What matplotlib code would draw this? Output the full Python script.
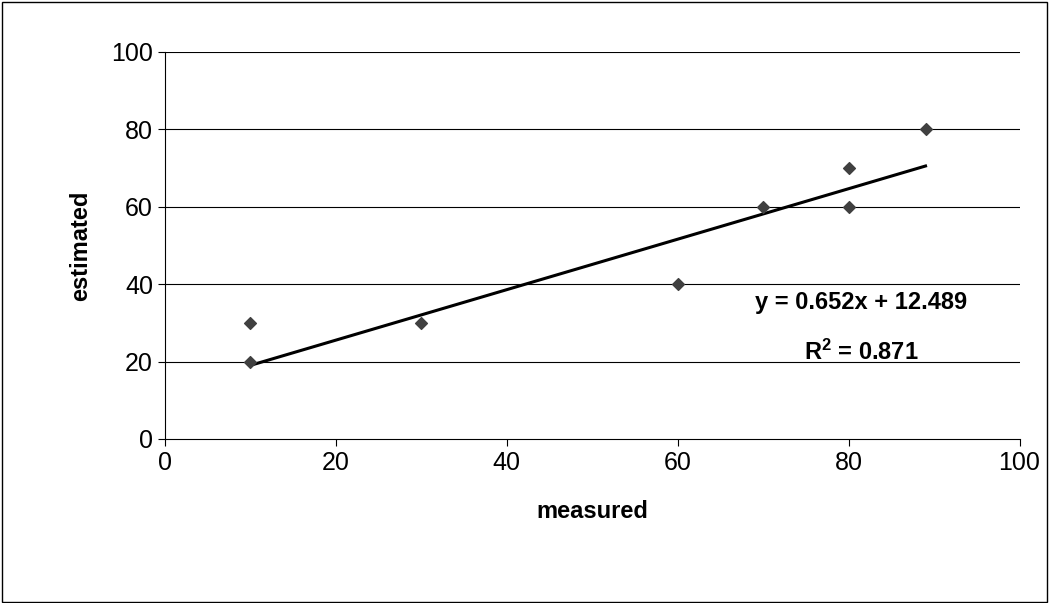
import numpy as np
from matplotlib import pyplot as plt

plt.rcParams['font.family'] = ['Liberation Sans', 'DejaVu Sans']
plt.rcParams['mathtext.fontset'] = 'custom'
plt.rcParams['mathtext.bf'] = 'Liberation Sans:bold'

measured = [10, 10, 30, 60, 70, 80, 80, 89]
estimated = [30, 20, 30, 40, 60, 70, 60, 80]
slope, intercept = 0.652, 12.489
ticks = [0, 20, 40, 60, 80, 100]

fig = plt.figure(figsize=(10.5, 6.03), dpi=100)
fig.patches.append(plt.Rectangle((0.002, 0.002), 0.995, 0.995, transform=fig.transFigure,
                                 fill=False, edgecolor='black', linewidth=1))
ax = fig.add_axes([0.157, 0.272, 0.814, 0.642])

for t in ticks[1:]:
    ax.axhline(t, color='black', linewidth=0.8, zorder=0)

ax.scatter(measured, estimated, marker='D', s=36, color='#404040', zorder=3)
xl = np.array([min(measured), max(measured)])
ax.plot(xl, slope * xl + intercept, color='black', linewidth=2.2, zorder=2)

ax.set_xlim(0, 100)
ax.set_ylim(0, 100)
ax.set_xticks(ticks)
ax.set_yticks(ticks)
ax.tick_params(labelsize=18, direction='out', length=5)
for s in ['top', 'right']:
    ax.spines[s].set_visible(False)
ax.set_xlabel('measured', fontsize=17, fontweight='bold', labelpad=18)
ax.set_ylabel('estimated', fontsize=17, fontweight='bold', labelpad=14)

ax.text(81.5, 33.5, f'y = {slope}x + {intercept}', fontsize=17, fontweight='bold', ha='center')
ax.text(81.5, 20.5, '$\\mathbf{R^2}$ = 0.871', fontsize=17, fontweight='bold', ha='center')

fig.savefig('out.png')
